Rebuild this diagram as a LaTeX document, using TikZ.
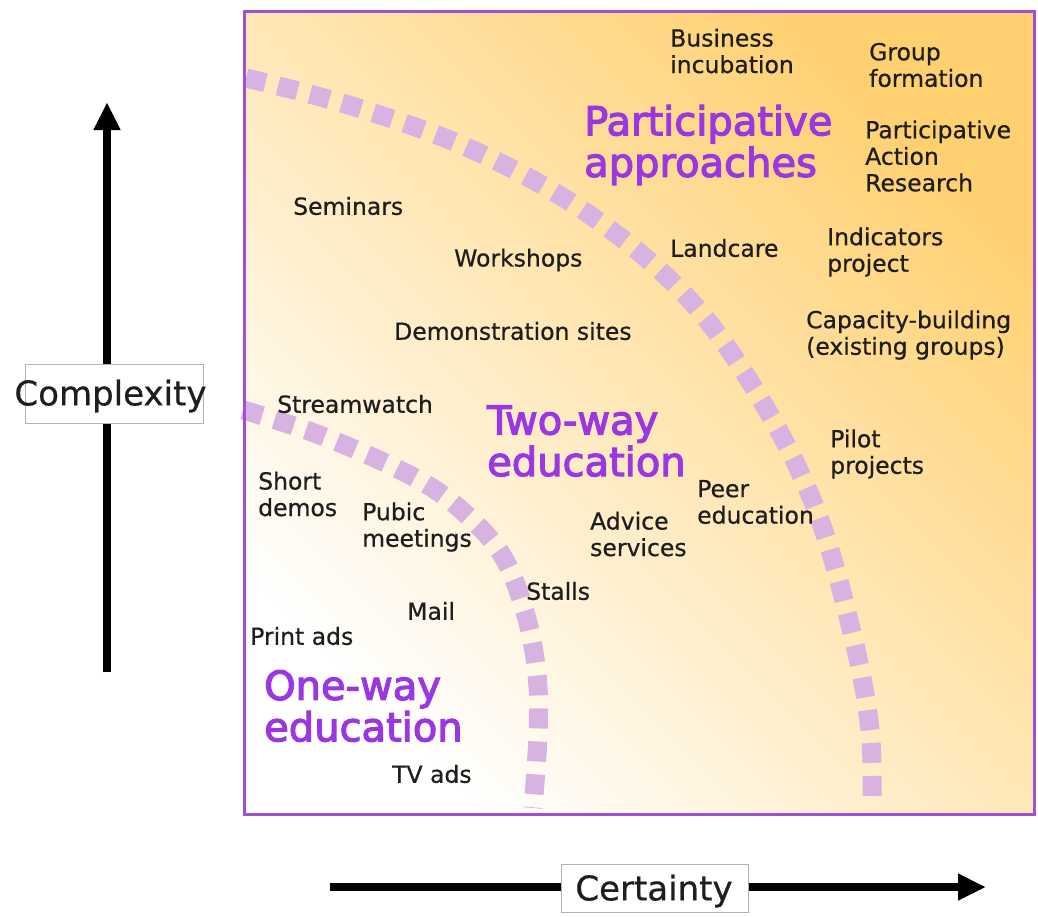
\documentclass[tikz,border=0pt]{standalone}
\usepackage{fontspec}
\setmainfont{DejaVu Sans}
\newfontfamily\purplefont{DejaVu Sans}[FakeBold=3]
\newfontfamily\labelfont{DejaVu Sans}[FakeBold=0.6]
\usetikzlibrary{arrows.meta}
\definecolor{bordpurple}{RGB}{160,80,210}
\definecolor{textpurple}{RGB}{155,55,225}
\definecolor{dashlilac}{RGB}{216,178,224}
\definecolor{corange}{RGB}{255,208,112}
\definecolor{txt}{RGB}{30,30,30}
\begin{document}
\begin{tikzpicture}[x=1pt,y=-1pt,
  lbl/.style={font=\labelfont\fontsize{23.5}{26.5}\selectfont, anchor=west, align=left, inner sep=0pt, text=txt},
  region/.style={font=\purplefont\fontsize{40}{41.5}\selectfont, anchor=west, align=left, inner sep=0pt, text=textpurple},
  boundary/.style={draw=dashlilac, line width=19pt, dash pattern=on 20pt off 13pt},
  axisarrow/.style={line width=8pt, -{Triangle[length=28pt,width=25pt]}},
  axisbox/.style={draw=black!30, line width=1pt, fill=white, inner sep=0pt},
  axislabel/.style={font=\labelfont\fontsize{34}{40}\selectfont, inner sep=0pt, text=txt}]
\useasboundingbox (0,0) rectangle (1038,916);
% background gradient panel
\path[top color=corange, bottom color=white, shading angle=-45] (244,11) rectangle (1034,814);
% region boundaries
\draw[boundary] plot[smooth, tension=0.6] coordinates {(243,410) (317,434) (400,470) (453,503) (500,552) (525,612) (537,675) (538,735) (533,808)};
\draw[boundary] plot[smooth, tension=0.6] coordinates {(246,78) (355,107) (473,150) (587,213) (687,297) (760,398) (817,512) (853,637) (870,730) (872,806)};
\draw[bordpurple, line width=3pt] (244,11) rectangle (1034,814);
% labels
\node[lbl] (biz) at (670,51) {Business\\incubation};
\node[lbl] (grp) at (869,65) {Group\\formation};
\node[region] (pa) at (584,145) {Participative\\approaches};
\node[lbl] (par) at (865,156) {Participative\\Action\\Research};
\node[lbl] (sem) at (293,206) {Seminars};
\node[lbl] (work) at (454,260) {Workshops};
\node[lbl] (land) at (670,248) {Landcare};
\node[lbl] (ind) at (827,252) {Indicators\\project};
\node[lbl] (demo) at (394,331) {Demonstration sites};
\node[lbl] (cap) at (806,335) {Capacity-building\\(existing groups)};
\node[lbl] (stream) at (277,404) {Streamwatch};
\node[region] (tw) at (487,441) {Two-way\\education};
\node[lbl] (pilot) at (830,454) {Pilot\\projects};
\node[lbl] (short) at (258,494) {Short\\demos};
\node[lbl] (peer) at (697,502) {Peer\\education};
\node[lbl] (pubic) at (362,527) {Pubic\\meetings};
\node[lbl] (advice) at (590,534) {Advice\\services};
\node[lbl] (stalls) at (526,591) {Stalls};
\node[lbl] (mail) at (407,611) {Mail};
\node[lbl] (print) at (250,636) {Print ads};
\node[region] (ow) at (264,706) {One-way\\education};
\node[lbl] (tv) at (392,774) {TV ads};
% axes
\coordinate (vstart) at (107,672);
\coordinate (vend) at (107,102);
\draw[axisarrow] (vstart) -- (vend);
\node[axisbox, minimum width=178pt, minimum height=59pt] (cbox) at (114,393.5) {};
\node[axislabel] (clabel) at (110.5,396) {Complexity};
\coordinate (hstart) at (330,887);
\coordinate (hend) at (986,887);
\draw[axisarrow] (hstart) -- (hend);
\node[axisbox, minimum width=187pt, minimum height=48pt] (tbox) at (654.5,888) {};
\node[axislabel] (tlabel) at (654,891) {Certainty};
\end{tikzpicture}
\end{document}
